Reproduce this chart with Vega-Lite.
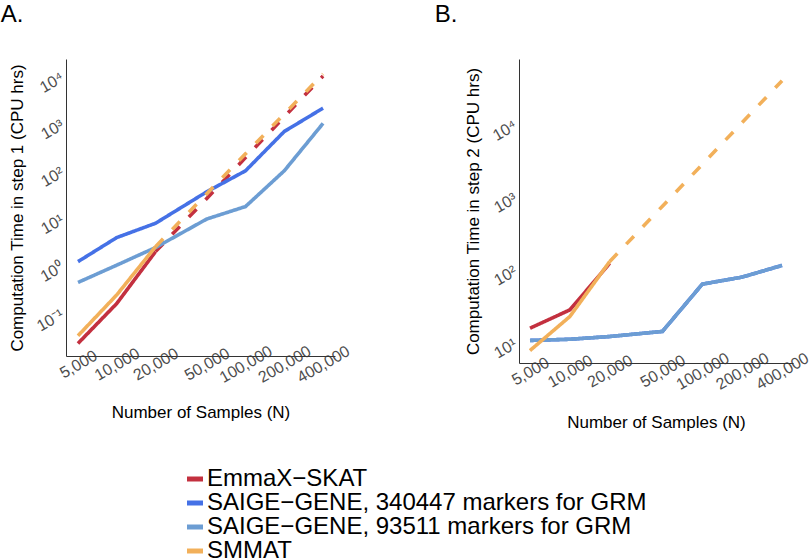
{
  "$schema": "https://vega.github.io/schema/vega-lite/v6.json",
  "background": "white",
  "padding": {"left": 0, "top": 3, "right": 0, "bottom": 0},
  "align": "none",
  "spacing": 81,
  "datasets": {
    "a": [
      {"method": "EmmaX−SKAT", "style": "solid", "N": 5000, "time": 0.0227},
      {"method": "EmmaX−SKAT", "style": "solid", "N": 10000, "time": 0.158},
      {"method": "EmmaX−SKAT", "style": "solid", "N": 20000, "time": 1.97},
      {"method": "EmmaX−SKAT", "style": "dashed", "N": 20000, "time": 1.97},
      {"method": "EmmaX−SKAT", "style": "dashed", "N": 50000, "time": 26},
      {"method": "EmmaX−SKAT", "style": "dashed", "N": 100000, "time": 190},
      {"method": "EmmaX−SKAT", "style": "dashed", "N": 200000, "time": 1380},
      {"method": "EmmaX−SKAT", "style": "dashed", "N": 400000, "time": 10000},
      {"method": "SAIGE−GENE, 340447 markers for GRM", "style": "solid", "N": 5000, "time": 1.21},
      {"method": "SAIGE−GENE, 340447 markers for GRM", "style": "solid", "N": 10000, "time": 3.9},
      {"method": "SAIGE−GENE, 340447 markers for GRM", "style": "solid", "N": 20000, "time": 7.8},
      {"method": "SAIGE−GENE, 340447 markers for GRM", "style": "solid", "N": 50000, "time": 36},
      {"method": "SAIGE−GENE, 340447 markers for GRM", "style": "solid", "N": 100000, "time": 100},
      {"method": "SAIGE−GENE, 340447 markers for GRM", "style": "solid", "N": 200000, "time": 676},
      {"method": "SAIGE−GENE, 340447 markers for GRM", "style": "solid", "N": 400000, "time": 2100},
      {"method": "SAIGE−GENE, 93511 markers for GRM", "style": "solid", "N": 5000, "time": 0.44},
      {"method": "SAIGE−GENE, 93511 markers for GRM", "style": "solid", "N": 10000, "time": 1.02},
      {"method": "SAIGE−GENE, 93511 markers for GRM", "style": "solid", "N": 20000, "time": 2.4},
      {"method": "SAIGE−GENE, 93511 markers for GRM", "style": "solid", "N": 50000, "time": 9.6},
      {"method": "SAIGE−GENE, 93511 markers for GRM", "style": "solid", "N": 100000, "time": 17.6},
      {"method": "SAIGE−GENE, 93511 markers for GRM", "style": "solid", "N": 200000, "time": 100},
      {"method": "SAIGE−GENE, 93511 markers for GRM", "style": "solid", "N": 400000, "time": 1000},
      {"method": "SMMAT", "style": "solid", "N": 5000, "time": 0.033},
      {"method": "SMMAT", "style": "solid", "N": 10000, "time": 0.24},
      {"method": "SMMAT", "style": "solid", "N": 20000, "time": 2.5},
      {"method": "SMMAT", "style": "dashed", "N": 20000, "time": 2.5},
      {"method": "SMMAT", "style": "dashed", "N": 50000, "time": 32.7},
      {"method": "SMMAT", "style": "dashed", "N": 100000, "time": 228},
      {"method": "SMMAT", "style": "dashed", "N": 200000, "time": 1585},
      {"method": "SMMAT", "style": "dashed", "N": 400000, "time": 11000}
    ],
    "b": [
      {"method": "SAIGE−GENE, 340447 markers for GRM", "style": "solid", "N": 5000, "time": 10.6},
      {"method": "SAIGE−GENE, 340447 markers for GRM", "style": "solid", "N": 10000, "time": 11.0},
      {"method": "SAIGE−GENE, 340447 markers for GRM", "style": "solid", "N": 20000, "time": 12.0},
      {"method": "SAIGE−GENE, 340447 markers for GRM", "style": "solid", "N": 50000, "time": 14.1},
      {"method": "SAIGE−GENE, 340447 markers for GRM", "style": "solid", "N": 100000, "time": 63},
      {"method": "SAIGE−GENE, 340447 markers for GRM", "style": "solid", "N": 200000, "time": 78.7},
      {"method": "SAIGE−GENE, 340447 markers for GRM", "style": "solid", "N": 400000, "time": 114},
      {"method": "EmmaX−SKAT", "style": "solid", "N": 5000, "time": 15.6},
      {"method": "EmmaX−SKAT", "style": "solid", "N": 10000, "time": 27.9},
      {"method": "EmmaX−SKAT", "style": "solid", "N": 20000, "time": 122},
      {"method": "SAIGE−GENE, 93511 markers for GRM", "style": "solid", "N": 5000, "time": 10.6},
      {"method": "SAIGE−GENE, 93511 markers for GRM", "style": "solid", "N": 10000, "time": 11.0},
      {"method": "SAIGE−GENE, 93511 markers for GRM", "style": "solid", "N": 20000, "time": 12.0},
      {"method": "SAIGE−GENE, 93511 markers for GRM", "style": "solid", "N": 50000, "time": 14.1},
      {"method": "SAIGE−GENE, 93511 markers for GRM", "style": "solid", "N": 100000, "time": 63},
      {"method": "SAIGE−GENE, 93511 markers for GRM", "style": "solid", "N": 200000, "time": 78.7},
      {"method": "SAIGE−GENE, 93511 markers for GRM", "style": "solid", "N": 400000, "time": 114},
      {"method": "SMMAT", "style": "solid", "N": 5000, "time": 7.7},
      {"method": "SMMAT", "style": "solid", "N": 10000, "time": 22.6},
      {"method": "SMMAT", "style": "solid", "N": 20000, "time": 129},
      {"method": "SMMAT", "style": "dashed", "N": 20000, "time": 129},
      {"method": "SMMAT", "style": "dashed", "N": 50000, "time": 743},
      {"method": "SMMAT", "style": "dashed", "N": 100000, "time": 2790},
      {"method": "SMMAT", "style": "dashed", "N": 200000, "time": 10500},
      {"method": "SMMAT", "style": "dashed", "N": 400000, "time": 39500}
    ]
  },
  "config": {
    "font": "Liberation Sans",
    "view": {"stroke": null},
    "axis": {
      "grid": false,
      "ticks": false,
      "domainColor": "#333333",
      "domainWidth": 1,
      "labelFont": "Liberation Sans",
      "labelColor": "#4d4d4d",
      "labelFontSize": 16,
      "titleFont": "Liberation Sans",
      "titleFontSize": 17,
      "titleFontWeight": "normal",
      "titleColor": "#000000"
    },
    "title": {"font": "Liberation Sans", "fontSize": 24, "fontWeight": "normal", "color": "#000000"}
  },
  "hconcat": [
    {
      "title": {"text": "A.", "anchor": "start", "frame": "bounds", "offset": 32, "dx": -8},
      "width": 269,
      "height": 297,
      "data": {"name": "a"},
      "mark": {"type": "line", "strokeWidth": 3.6, "clip": true},
      "encoding": {
        "x": {
          "field": "N", "type": "quantitative",
          "scale": {"type": "log", "domain": [4035, 495500], "nice": false},
          "axis": {"values": [5000, 10000, 20000, 50000, 100000, 200000, 400000], "format": ",", "labelAngle": -30, "labelAlign": "center", "labelBaseline": "middle", "labelPadding": 8, "labelOverlap": false, "title": "Number of Samples (N)", "titlePadding": 19}
        },
        "y": {
          "field": "time", "type": "quantitative",
          "scale": {"type": "log", "domain": [0.01233, 22900], "nice": false},
          "axis": {"values": [0.1, 1, 10, 100, 1000, 10000], "labelExpr": "'10' + (datum.value < 0.5 ? '⁻¹' : datum.value < 5 ? '⁰' : datum.value < 50 ? '¹' : datum.value < 500 ? '²' : datum.value < 5000 ? '³' : '⁴')", "labelAngle": -30, "labelAlign": "right", "labelBaseline": "middle", "labelPadding": 4, "labelOverlap": false, "title": "Computation Time in step 1 (CPU hrs)", "titlePadding": 7}
        },
        "color": {
          "field": "method", "type": "nominal",
          "scale": {"domain": ["EmmaX−SKAT", "SAIGE−GENE, 340447 markers for GRM", "SAIGE−GENE, 93511 markers for GRM", "SMMAT"], "range": ["#C3303F", "#4571E6", "#6C9DD3", "#F2B05A"]},
          "legend": {"orient": "none", "legendX": 117, "legendY": 408, "title": null, "symbolType": "stroke", "symbolSize": 256, "symbolStrokeWidth": 5, "labelFontSize": 24, "labelFont": "Liberation Sans", "labelColor": "#000000", "labelOffset": 0, "rowPadding": 0, "labelLimit": 600}
        },
        "strokeDash": {
          "field": "style", "type": "nominal",
          "scale": {"domain": ["solid", "dashed"], "range": [[1, 0], [11, 13]]},
          "legend": null
        }
      }
    },
    {
      "title": {"text": "B.", "anchor": "start", "frame": "bounds", "offset": 32, "dx": -30},
      "width": 274,
      "height": 304,
      "data": {"name": "b"},
      "mark": {"type": "line", "strokeWidth": 3.6, "clip": true},
      "encoding": {
        "x": {
          "field": "N", "type": "quantitative",
          "scale": {"type": "log", "domain": [4130, 484000], "nice": false},
          "axis": {"values": [5000, 10000, 20000, 50000, 100000, 200000, 400000], "format": ",", "labelAngle": -30, "labelAlign": "center", "labelBaseline": "middle", "labelPadding": 8, "labelOverlap": false, "title": "Number of Samples (N)", "titlePadding": 22}
        },
        "y": {
          "field": "time", "type": "quantitative",
          "scale": {"type": "log", "domain": [5.19, 78400], "nice": false},
          "axis": {"values": [10, 100, 1000, 10000], "labelExpr": "'10' + (datum.value < 50 ? '¹' : datum.value < 500 ? '²' : datum.value < 5000 ? '³' : '⁴')", "labelAngle": -30, "labelAlign": "right", "labelBaseline": "middle", "labelPadding": 4, "labelOverlap": false, "title": "Computation Time in step 2 (CPU hrs)", "titlePadding": 7}
        },
        "color": {
          "field": "method", "type": "nominal",
          "scale": {"domain": ["EmmaX−SKAT", "SAIGE−GENE, 340447 markers for GRM", "SAIGE−GENE, 93511 markers for GRM", "SMMAT"], "range": ["#C3303F", "#4571E6", "#6C9DD3", "#F2B05A"]}
        },
        "strokeDash": {
          "field": "style", "type": "nominal",
          "scale": {"domain": ["solid", "dashed"], "range": [[1, 0], [11, 13]]},
          "legend": null
        }
      }
    }
  ]
}
